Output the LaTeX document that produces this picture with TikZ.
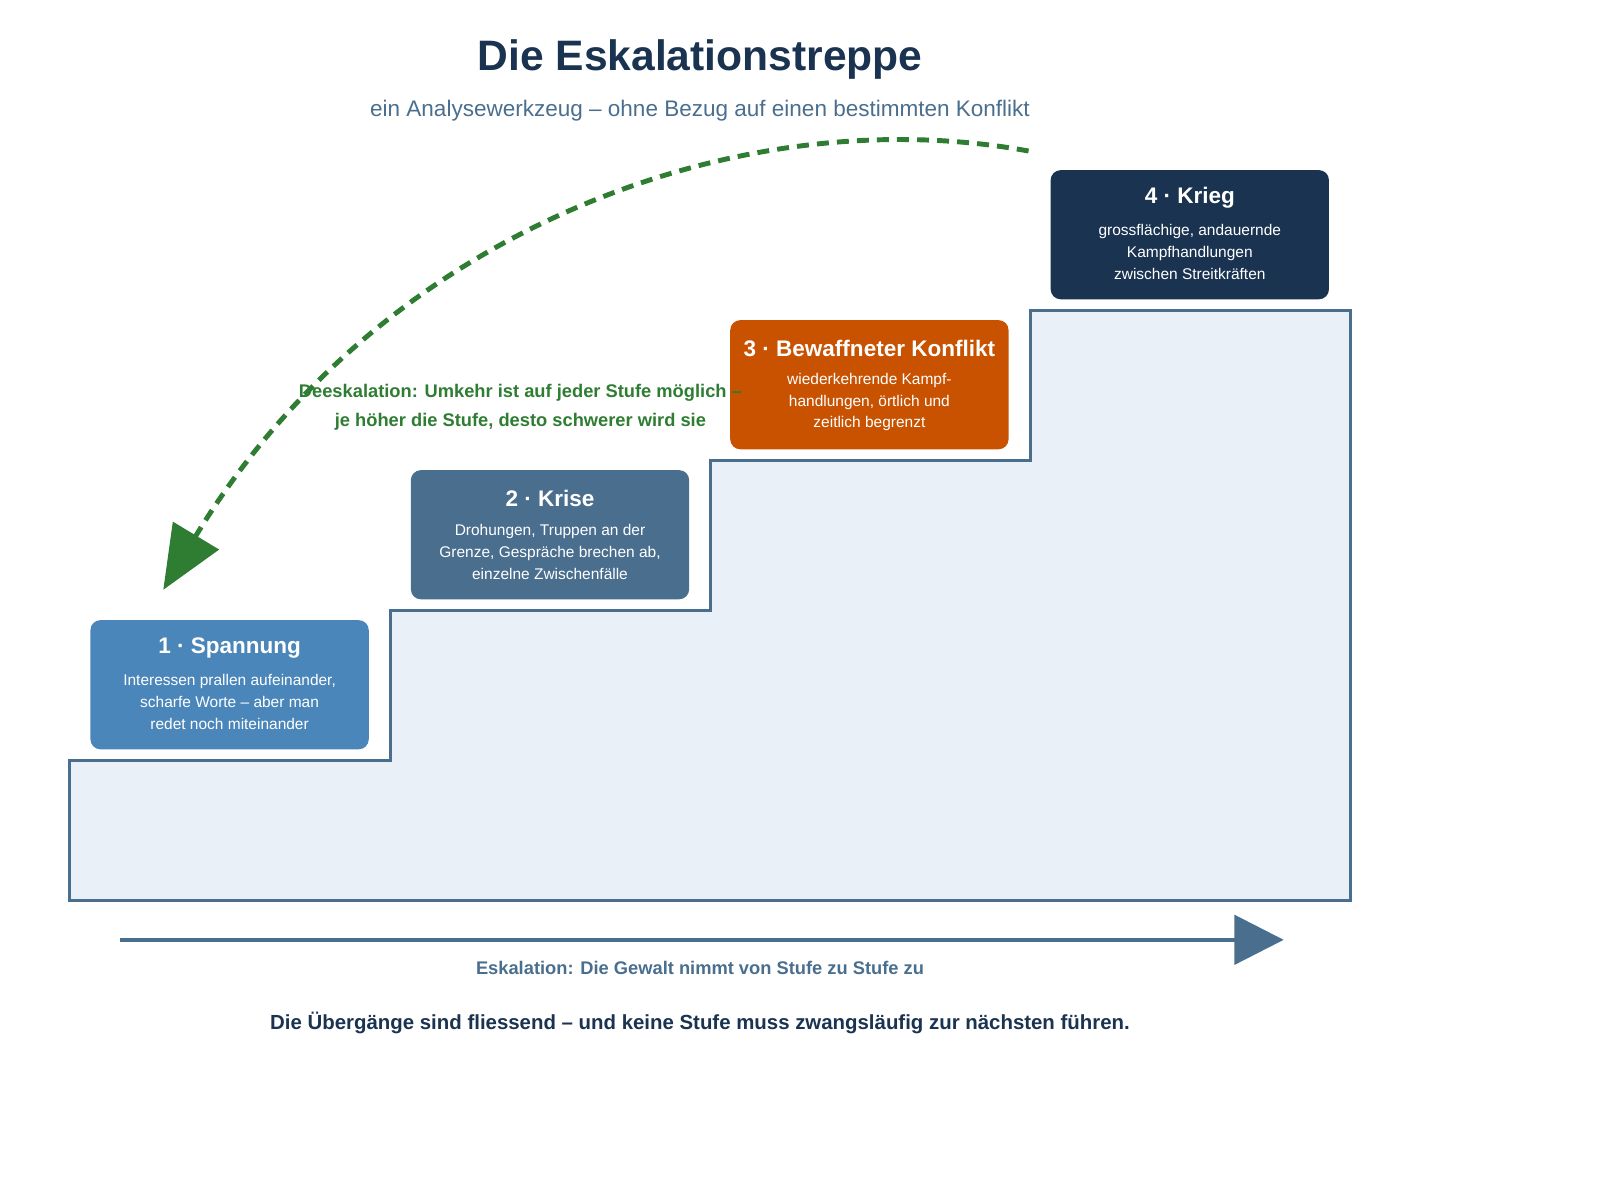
\documentclass[tikz,border=0pt]{standalone}
\usepackage{fontspec}
\setmainfont{Liberation Sans}
\usetikzlibrary{arrows.meta}
\definecolor{navy}{HTML}{1A3350}
\definecolor{slate}{HTML}{4A6E8E}
\definecolor{skyb}{HTML}{4A86BA}
\definecolor{rust}{HTML}{C85200}
\definecolor{paleb}{HTML}{EAF0F8}
\definecolor{leaf}{HTML}{2E7D32}
\tikzset{
  stufe/.style={rounded corners=0.1cm, minimum width=2.78cm, minimum height=1.29cm, inner sep=0pt},
  stitel/.style={text=white, font=\fontsize{6.4pt}{7.6pt}\selectfont\bfseries, inner sep=0pt},
  stext/.style={text=white, align=center, font=\fontsize{4.4pt}{6.2pt}\selectfont, inner sep=0pt},
}
\begin{document}
\begin{tikzpicture}[x=0.0102cm,y=-0.0102cm]
\useasboundingbox (0,0) rectangle (1568,1176);
% Treppe
\draw[slate, fill=paleb, line width=0.87pt]
  (68,745) -- (383,745) -- (383,598) -- (696,598) -- (696,451) -- (1010,451)
  -- (1010,304) -- (1323,304) -- (1323,882) -- (68,882) -- cycle;
% Titel
\node[navy, font=\fontsize{12.1pt}{14pt}\selectfont\bfseries] (titel) at (686,58) {Die Eskalationstreppe};
\node[slate, font=\fontsize{6.4pt}{8pt}\selectfont] (untertitel) at (686,108) {ein Analysewerkzeug – ohne Bezug auf einen bestimmten Konflikt};
% Stufen
\node[stufe, fill=skyb] (s1) at (225,671) {};
\node[stitel] (s1t) at (225,635) {1 · Spannung};
\node[stext] (s1b) at (225,688) {Interessen prallen aufeinander,\\scharfe Worte – aber man\\redet noch miteinander};
\node[stufe, fill=slate] (s2) at (539,524) {};
\node[stitel] (s2t) at (539,488) {2 · Krise};
\node[stext] (s2b) at (539,541) {Drohungen, Truppen an der\\Grenze, Gespräche brechen ab,\\einzelne Zwischenfälle};
\node[stufe, fill=rust] (s3) at (852,377) {};
\node[stitel] (s3t) at (852,341) {3 · Bewaffneter Konflikt};
\node[stext] (s3b) at (852,394) {wiederkehrende Kampf-\\handlungen, örtlich und\\zeitlich begrenzt};
\node[stufe, fill=navy] (s4) at (1166,230) {};
\node[stitel] (s4t) at (1166,194) {4 · Krieg};
\node[stext] (s4b) at (1166,247) {grossflächige, andauernde\\Kampfhandlungen\\zwischen Streitkräften};
% Deeskalation
\coordinate (deA) at (1008,148);
\coordinate (deB) at (160,578);
\draw[leaf, line width=1.4pt, dash pattern=on 3.4pt off 2.3pt,
  -{Triangle[length=18pt,width=15pt]}]
  (deA) .. controls (720,95) and (370,230) .. (deB);
\node[leaf, align=center, font=\fontsize{5.2pt}{8.1pt}\selectfont\bfseries] (detext) at (510,399)
  {Deeskalation: Umkehr ist auf jeder Stufe möglich –\\je höher die Stufe, desto schwerer wird sie};
% Eskalationspfeil
\coordinate (esA) at (118,921);
\coordinate (esB) at (1258,921);
\draw[slate, line width=1.1pt, -{Triangle[length=14pt,width=14pt]}] (esA) -- (esB);
\node[slate, font=\fontsize{5.2pt}{6pt}\selectfont\bfseries] (estext) at (686,949)
  {Eskalation: Die Gewalt nimmt von Stufe zu Stufe zu};
\node[navy, font=\fontsize{5.8pt}{7pt}\selectfont\bfseries] (fazit) at (686,1002)
  {Die Übergänge sind fliessend – und keine Stufe muss zwangsläufig zur nächsten führen.};
\end{tikzpicture}
\end{document}
